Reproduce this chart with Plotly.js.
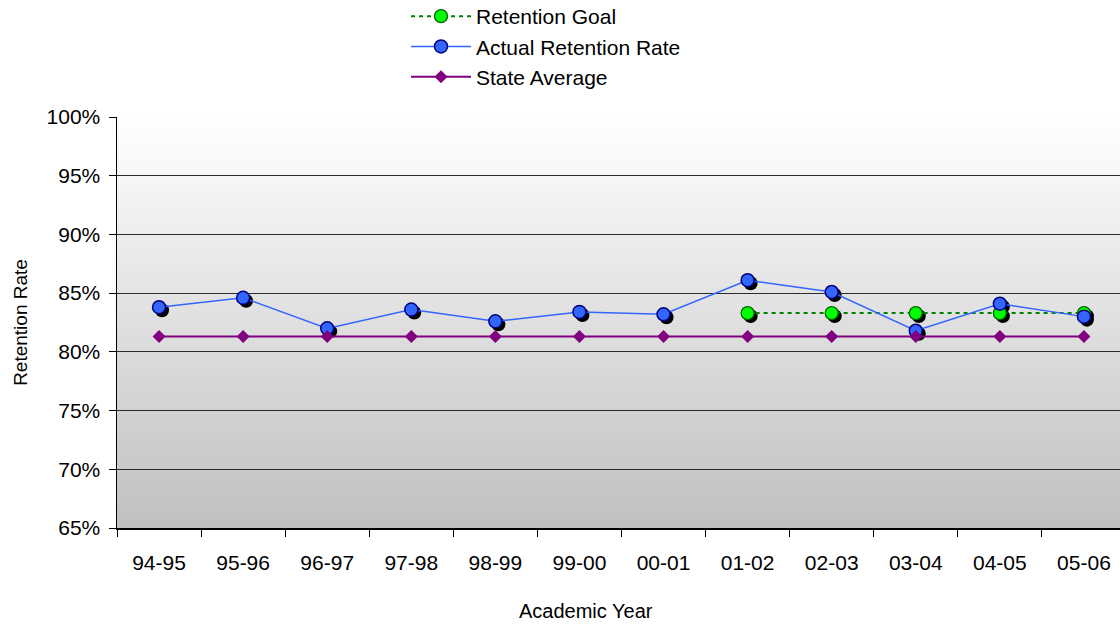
<!DOCTYPE html>
<html>
<head>
<meta charset="utf-8">
<script src="https://cdn.plot.ly/plotly-3.0.1.min.js"></script>
<style>
html,body{margin:0;padding:0;background:#fff;overflow:hidden;width:1120px;height:626px;}
#chart{width:1140px;height:626px;}
</style>
</head>
<body>
<div id="chart"></div>
<script>
const years = ['94-95','95-96','96-97','97-98','98-99','99-00','00-01','01-02','02-03','03-04','04-05','05-06'];
const actualRate = [83.8, 84.6, 82.0, 83.6, 82.6, 83.4, 83.2, 86.1, 85.1, 81.8, 84.1, 83.0];
const retentionGoal = [null, null, null, null, null, null, null, 83.3, 83.3, 83.3, 83.3, 83.3];
const stateAverage = [81.3, 81.3, 81.3, 81.3, 81.3, 81.3, 81.3, 81.3, 81.3, 81.3, 81.3, 81.3];
const yTicks = [65, 70, 75, 80, 85, 90, 95, 100];

const W = 1140, H = 626;
const ML = 117, MR = 11, MT = 117, MB = 95;
const PW = W - ML - MR, PH = H - MT - MB;
const SH = 3; // shadow offset px
const FONT = 'Liberation Sans, Arial, sans-serif';

const xMainDom = [0, 1 - SH / PW];
const yMainDom = [SH / PH, 1];
const xShadowDom = [SH / PW, 1];
const yShadowDom = [0, 1 - SH / PH];

const bgSvg = "<svg xmlns='http://www.w3.org/2000/svg' width='100' height='100' preserveAspectRatio='none'>" +
  "<defs><linearGradient id='g' x1='0' y1='0' x2='0' y2='1'>" +
  "<stop offset='0' stop-color='#ffffff'/><stop offset='1' stop-color='#c0c0c0'/>" +
  "</linearGradient></defs><rect width='100' height='100' fill='url(#g)'/></svg>";
const bgUri = 'data:image/svg+xml;charset=utf-8,' + encodeURIComponent(bgSvg);

const traces = [
  // shadows (drawn first, on the shifted hidden subplot)
  {x: years, y: retentionGoal, type: 'scatter', mode: 'markers', xaxis: 'x', yaxis: 'y',
   marker: {symbol: 'circle', size: 14, color: '#000000'}, showlegend: false, hoverinfo: 'skip'},
  {x: years, y: actualRate, type: 'scatter', mode: 'markers', xaxis: 'x', yaxis: 'y',
   marker: {symbol: 'circle', size: 14, color: '#000000'}, showlegend: false, hoverinfo: 'skip'},
  // main series
  {x: years, y: retentionGoal, type: 'scatter', mode: 'lines+markers', name: 'Retention Goal',
   xaxis: 'x2', yaxis: 'y2',
   line: {color: '#008000', width: 2, dash: '4px,4px'},
   marker: {symbol: 'circle', size: 13, color: '#00ff00', line: {color: '#006400', width: 1.3}}},
  {x: years, y: actualRate, type: 'scatter', mode: 'lines+markers', name: 'Actual Retention Rate',
   xaxis: 'x2', yaxis: 'y2',
   line: {color: '#3366ff', width: 1.5},
   marker: {symbol: 'circle', size: 13, color: '#3366ff', line: {color: '#000080', width: 1.5}}},
  {x: years, y: stateAverage, type: 'scatter', mode: 'lines+markers', name: 'State Average',
   xaxis: 'x2', yaxis: 'y2',
   line: {color: '#800080', width: 2},
   marker: {symbol: 'diamond', size: 10, color: '#800080'}}
];

const layout = {
  width: W, height: H,
  margin: {l: ML, r: MR, t: MT, b: MB, pad: 0, autoexpand: false},
  paper_bgcolor: '#ffffff',
  plot_bgcolor: 'rgba(0,0,0,0)',
  font: {family: FONT, size: 21, color: '#000000'},
  showlegend: true,
  legend: {
    x: (406 - ML) / PW, xanchor: 'left',
    y: 1 + (MT + 4) / PH, yanchor: 'top',
    orientation: 'v', bgcolor: 'rgba(0,0,0,0)', borderwidth: 0,
    font: {family: FONT, size: 21, color: '#000000'},
    itemwidth: 60, tracegroupgap: 0
  },
  xaxis: {domain: xShadowDom, anchor: 'y', type: 'category', range: [-0.5, years.length - 0.5],
          visible: false, fixedrange: true},
  yaxis: {domain: yShadowDom, anchor: 'x', range: [65, 100], visible: false, fixedrange: true},
  xaxis2: {
    domain: xMainDom, anchor: 'y2', type: 'category', range: [-0.5, years.length - 0.5],
    tickmode: 'array', tickvals: years, ticktext: years,
    tickson: 'boundaries', ticks: 'outside', ticklen: 7, tickwidth: 1, tickcolor: '#000000',
    showline: true, linecolor: '#000000', linewidth: 1.5,
    showgrid: false, zeroline: false,
    tickfont: {family: FONT, size: 21, color: '#000000'},
    ticklabelstandoff: 15
  },
  yaxis2: {
    domain: yMainDom, anchor: 'x2', range: [65, 100],
    tickmode: 'array', tickvals: yTicks, ticktext: yTicks.map(v => v + '%'),
    ticks: 'outside', ticklen: 7, tickwidth: 1, tickcolor: '#000000',
    showline: true, linecolor: '#000000', linewidth: 1.5,
    showgrid: true, gridcolor: '#2b2b2b', gridwidth: 1, zeroline: false,
    tickfont: {family: FONT, size: 21, color: '#000000'},
    ticklabelstandoff: 4,
    title: {text: 'Retention Rate', font: {family: FONT, size: 19, color: '#000000'}, standoff: 14}
  },
  images: [{
    source: bgUri, xref: 'paper', yref: 'paper',
    x: xMainDom[0], y: yMainDom[1], sizex: xMainDom[1] - xMainDom[0], sizey: yMainDom[1] - yMainDom[0],
    xanchor: 'left', yanchor: 'top', sizing: 'stretch', layer: 'below'
  }],
  annotations: [{
    text: 'Academic Year', xref: 'paper', yref: 'paper',
    x: (586 - ML) / PW, y: (H - MB - 611) / PH, xanchor: 'center', yanchor: 'middle',
    showarrow: false, font: {family: FONT, size: 20, color: '#000000'}
  }]
};

Plotly.newPlot('chart', traces, layout, {displayModeBar: false, staticPlot: true});
</script>
</body>
</html>
